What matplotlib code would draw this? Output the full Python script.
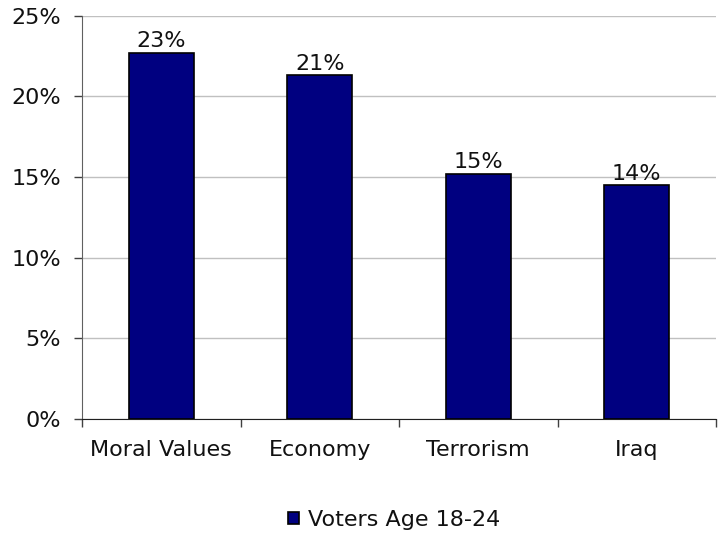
import matplotlib
matplotlib.use("Agg")
import matplotlib.pyplot as plt
import numpy as np
from matplotlib.ticker import FixedLocator, PercentFormatter

categories = ["Moral Values", "Economy", "Terrorism", "Iraq"]
values = [22.7, 21.3, 15.2, 14.5]
labels = ["23%", "21%", "15%", "14%"]
series_name = "Voters Age 18-24"
yticks = [0, 5, 10, 15, 20, 25]

plt.rcParams['font.family'] = ['DejaVu Sans']
FS = 16
fig = plt.figure(figsize=(7.18, 5.33), dpi=100)
ax = fig.add_axes([82/718, 1-419/533, (716-82)/718, (419-15.5)/533])

x = np.arange(len(categories))
bars = ax.bar(x, values, width=0.41, color="#000080", edgecolor="black",
              linewidth=1.2, label=series_name, zorder=3)
for xi, v, lab in zip(x, values, labels):
    ax.annotate(lab, (xi, v), xytext=(0, 1), textcoords="offset points",
                ha="center", va="bottom", fontsize=FS, color="#111111")

ax.set_xlim(-0.5, len(categories) - 0.5)
ax.set_ylim(0, 25)
ax.set_yticks(yticks)
ax.yaxis.set_major_formatter(PercentFormatter(decimals=0))
ax.grid(axis="y", color="#c0c0c0", linewidth=1, zorder=0)
ax.set_xticks(x)
ax.set_xticklabels(categories)
ax.xaxis.set_minor_locator(FixedLocator(np.arange(-0.5, len(categories), 1.0)))
ax.tick_params(axis="x", which="major", length=0, pad=15, labelsize=FS, labelcolor="#111111")
ax.tick_params(axis="x", which="minor", length=6, width=1, color="#404040")
ax.tick_params(axis="y", length=6, width=1, color="#404040", labelsize=FS, pad=9, labelcolor="#111111")
for s in ["top", "right"]:
    ax.spines[s].set_visible(False)
ax.spines["left"].set_color("#606060")
ax.spines["bottom"].set_color("#202020")

leg = fig.legend(handles=[bars], labels=[series_name], loc="center",
                 bbox_to_anchor=(394/718, 1-520/533), frameon=False,
                 fontsize=FS, handlelength=0.5, handleheight=0.5, handletextpad=0.4,
                 labelcolor="#111111")

fig.savefig("out.png", dpi=100)
